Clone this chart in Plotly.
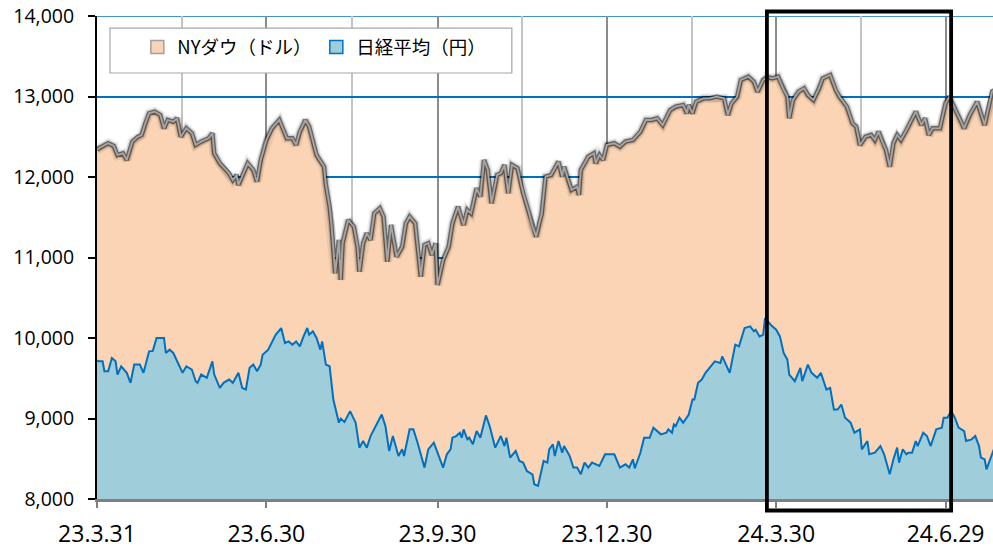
import pandas as pd
import plotly.graph_objects as go

# ---------------- data ----------------
start_date = "2011-03-31"   # 平成23年3月31日

dow_days = [0, 1, 6, 9, 11, 14, 16, 19, 22, 24, 26, 28, 31, 34, 36, 38, 41, 43, 45, 48,
            51, 53, 56, 60, 62, 63, 66, 69, 71, 73, 75, 76, 78, 81, 84, 86, 88, 91, 94, 98,
            102, 105, 107, 109, 112, 114, 118, 122, 123, 125, 126, 128, 130, 131, 132, 135, 138, 140, 141, 143,
            145, 147, 149, 152, 154, 156, 158, 161, 164, 166, 168, 171, 174, 176, 178, 180, 182, 183, 186, 189,
            191, 194, 197, 199, 201, 204, 206, 208, 210, 212, 215, 217, 219, 221, 223, 226, 229, 232, 234, 236,
            239, 241, 244, 248, 250, 251, 255, 258, 259, 260, 264, 267, 268, 270, 272, 274, 278, 281, 284, 288,
            292, 295, 298, 301, 304, 308, 311, 315, 317, 318, 320, 322, 326, 329, 333, 337, 339, 341, 344, 346,
            350, 353, 355, 358, 360, 363, 366, 369, 371, 372, 374, 377, 380, 382, 385, 388, 390, 394, 397, 399,
            403, 406, 408, 410, 413, 416, 418, 420, 422, 424, 426, 428, 430, 432, 435, 438, 440, 443, 445, 447,
            449, 453, 456, 458, 462, 466, 469, 473, 477, 481, 482]
dow_values = [12340, 12357, 12419, 12385, 12273, 12294, 12211, 12439, 12501, 12522, 12667, 12791, 12811, 12770, 12605, 12708, 12687, 12729, 12501, 12605,
              12543, 12398, 12439, 12481, 12543, 12294, 12170, 12087, 12046, 11963, 12025, 11901, 12004, 12170, 12087, 11942, 12211, 12460, 12605, 12708,
              12481, 12481, 12398, 12563, 12708, 12625, 12273, 12128, 11901, 11631, 11404, 10804, 11218, 10721, 11177, 11466, 11383, 11135, 10824, 11177,
              11301, 11218, 11549, 11611, 11507, 10948, 11404, 11010, 11135, 11425, 11507, 11425, 10762, 11156, 11177, 11031, 11177, 10659, 10969, 11135,
              11425, 11631, 11404, 11590, 11549, 11860, 11756, 12211, 12087, 11673, 12025, 12046, 12149, 11798, 12149, 12108, 11798, 11569, 11383, 11259,
              11549, 12004, 12025, 12190, 12004, 12128, 11839, 11880, 11777, 12087, 12252, 12294, 12170, 12273, 12211, 12398, 12419, 12377, 12439, 12460,
              12563, 12708, 12708, 12729, 12646, 12832, 12873, 12894, 12791, 12894, 12791, 12935, 12977, 12977, 12998, 12977, 12770, 12915, 12998, 13205,
              13246, 13184, 13060, 13205, 13240, 13226, 13246, 13081, 12998, 12729, 12957, 13060, 13102, 13019, 12957, 13102, 13226, 13267, 13081, 12998,
              12873, 12667, 12625, 12398, 12501, 12522, 12460, 12563, 12439, 12336, 12128, 12419, 12522, 12460, 12584, 12729, 12811, 12646, 12729, 12522,
              12605, 12605, 12915, 12998, 12791, 12605, 12770, 12935, 12646, 13060, 13080]

nikkei_days = [0, 1, 3, 4, 6, 8, 10, 11, 13, 16, 18, 20, 23, 25, 28, 30, 32, 36, 37, 39,
               41, 44, 46, 48, 51, 53, 54, 56, 59, 62, 63, 66, 68, 71, 73, 76, 78, 80, 82, 84,
               86, 88, 89, 92, 94, 96, 99, 101, 103, 105, 107, 109, 111, 113, 114, 116, 118, 120, 121, 123,
               125, 127, 130, 131, 133, 136, 139, 141, 143, 145, 147, 149, 151, 153, 155, 157, 159, 162, 164, 165,
               168, 170, 172, 174, 176, 178, 181, 183, 186, 188, 190, 191, 193, 195, 196, 197, 199, 200, 202, 204,
               206, 209, 211, 214, 217, 219, 220, 222, 225, 227, 229, 231, 234, 235, 237, 240, 242, 243, 245, 246,
               248, 250, 251, 254, 256, 258, 260, 262, 264, 266, 270, 273, 278, 281, 284, 286, 288, 289, 292, 294,
               297, 299, 301, 303, 306, 307, 309, 310, 311, 313, 315, 318, 320, 321, 323, 325, 327, 329, 332, 335,
               336, 338, 340, 343, 345, 348, 351, 353, 354, 356, 358, 359, 362, 365, 367, 369, 371, 372, 375, 378,
               379, 382, 384, 387, 389, 392, 394, 396, 398, 400, 402, 405, 407, 410, 411, 414, 415, 418, 421, 423,
               426, 428, 430, 431, 433, 435, 436, 438, 440, 441, 444, 446, 448, 451, 454, 455, 457, 459, 461, 463,
               466, 467, 470, 472, 474, 475, 477, 478, 481, 482]
nikkei_values = [9720, 9710, 9710, 9587, 9587, 9752, 9710, 9546, 9649, 9567, 9443, 9670, 9670, 9567, 9834, 9840, 10000, 10000, 9814, 9855,
                 9814, 9670, 9567, 9649, 9608, 9463, 9443, 9546, 9505, 9710, 9546, 9381, 9443, 9484, 9443, 9567, 9381, 9360, 9629, 9670,
                 9587, 9670, 9793, 9855, 9958, 10040, 10124, 9938, 9958, 9917, 9958, 9896, 10020, 10124, 10041, 10083, 10000, 9855, 9958, 9670,
                 9649, 9236, 8948, 8999, 8957, 9092, 8948, 8638, 8720, 8638, 8782, 8865, 8957, 9050, 8906, 8596, 8782, 8534, 8617, 8534,
                 8865, 8865, 8720, 8555, 8390, 8617, 8700, 8575, 8390, 8555, 8617, 8762, 8782, 8823, 8762, 8865, 8741, 8762, 8679, 8844,
                 8762, 9038, 8906, 8638, 8782, 8658, 8762, 8514, 8596, 8472, 8452, 8348, 8307, 8184, 8163, 8472, 8452, 8617, 8679, 8534,
                 8720, 8575, 8658, 8534, 8390, 8390, 8307, 8452, 8390, 8452, 8410, 8555, 8555, 8390, 8431, 8390, 8493, 8380, 8575, 8762,
                 8762, 8886, 8844, 8803, 8823, 8865, 8823, 8927, 8906, 9010, 8948, 9050, 9236, 9236, 9443, 9484, 9567, 9629, 9710, 9690,
                 9772, 9670, 9567, 9917, 9896, 10124, 10145, 10083, 10103, 10020, 10041, 10248, 10165, 10103, 10020, 9814, 9731, 9546, 9463, 9629,
                 9463, 9670, 9567, 9505, 9567, 9360, 9381, 9112, 9112, 9174, 9010, 8948, 8824, 8865, 8617, 8720, 8555, 8575, 8658, 8555,
                 8307, 8493, 8638, 8452, 8617, 8555, 8575, 8575, 8720, 8658, 8824, 8782, 8658, 8865, 8886, 9010, 9010, 9092, 9010, 8886,
                 8844, 8720, 8741, 8782, 8658, 8514, 8493, 8369, 8575, 8620]

series_names = ["NYダウ（ドル）", "日経平均（円）"]
tick_dates = ["2011-03-31", "2011-06-30", "2011-09-30", "2011-12-30", "2012-03-30", "2012-06-29"]
tick_labels = ["23.3.31", "23.6.30", "23.9.30", "23.12.30", "24.3.30", "24.6.29"]
highlight_period = ["2012-03-25", "2012-07-02"]
x_end_days = 481.5
y_range = [8000, 14000]

# ---------------- figure ----------------
t0 = pd.Timestamp(start_date)
dow_x = t0 + pd.to_timedelta(dow_days, unit="D")
nk_x = t0 + pd.to_timedelta(nikkei_days, unit="D")
tick_ts = pd.to_datetime(tick_dates)
minor_ts = [tick_ts[i] + (tick_ts[i + 1] - tick_ts[i]) / 2 for i in range(len(tick_ts) - 1)]
x_end = t0 + pd.to_timedelta(x_end_days, unit="D")

DOW_FILL = "#FAD4B4"
NK_FILL = "#9FCDD9"
NK_LINE = "#0070C0"

fig = go.Figure()
# Dow area fill
fig.add_trace(go.Scatter(x=dow_x, y=dow_values, mode="lines", fill="tozeroy",
                         fillcolor=DOW_FILL, line=dict(width=0, color=DOW_FILL),
                         showlegend=False, hoverinfo="skip"))
# shadow/glow of Dow line
for w, c in [(10, "rgba(0,0,0,0.06)"), (7, "rgba(0,0,0,0.15)"), (4.5, "rgba(0,0,0,0.5)")]:
    fig.add_trace(go.Scatter(x=dow_x, y=dow_values, mode="lines",
                             line=dict(width=w, color=c), showlegend=False, hoverinfo="skip"))
fig.add_trace(go.Scatter(x=dow_x, y=dow_values, mode="lines", name=series_names[0],
                         line=dict(width=1.8, color="#A6A6A6"), showlegend=False))
# Nikkei area
fig.add_trace(go.Scatter(x=nk_x, y=nikkei_values, mode="lines", fill="tozeroy",
                         fillcolor=NK_FILL, line=dict(width=2, color=NK_LINE),
                         name=series_names[1], showlegend=False))

# legend entries (square swatches)
fig.add_trace(go.Scatter(x=[None], y=[None], mode="markers", name=series_names[0],
                         marker=dict(symbol="square", size=13, color=DOW_FILL,
                                     line=dict(color="#A0A0A0", width=1.5))))
fig.add_trace(go.Scatter(x=[None], y=[None], mode="markers", name=series_names[1],
                         marker=dict(symbol="square", size=13, color=NK_FILL,
                                     line=dict(color=NK_LINE, width=1.5))))

fig.update_layout(
    width=993, height=552,
    margin=dict(l=97, r=0, t=16, b=53, autoexpand=False),
    paper_bgcolor="white", plot_bgcolor="white",
    font=dict(family="Open Sans, Liberation Sans, sans-serif", color="black"),
    showlegend=True,
    legend=dict(orientation="h", x=0.045, y=0.974, xanchor="left", yanchor="top",
                bgcolor="rgba(0,0,0,0)", borderwidth=0,
                font=dict(family="Noto Sans CJK JP", size=18.5, color="black"),
                entrywidth=134, itemwidth=30),
    xaxis=dict(type="date", range=[t0, x_end], automargin=False,
               tickmode="array", tickvals=tick_ts, ticktext=tick_labels,
               ticks="outside", ticklen=6, tickwidth=2, tickcolor="#808080",
               showline=True, linecolor="#808080", linewidth=3,
               showgrid=True, gridcolor="#8C8C8C", gridwidth=1.5,
               minor=dict(tickmode="array", tickvals=minor_ts, showgrid=True,
                          gridcolor="#C4C4C4", gridwidth=1.5, ticks=""),
               tickfont=dict(size=23, color="black"), ticklabelstandoff=6, zeroline=False),
    yaxis=dict(range=y_range, tickmode="linear", tick0=8000, dtick=1000, tickformat=",",
               automargin=False,
               ticks="outside", ticklen=7, tickwidth=1.5, tickcolor="black",
               showline=True, linecolor="black", linewidth=2,
               showgrid=True, gridcolor="#0070C0", gridwidth=1.6,
               ticklabeloverflow="allow",
               tickfont=dict(size=19.5, color="black"), ticklabelstandoff=10, zeroline=False),
    shapes=[
        # top gridline at the range maximum
        dict(type="line", xref="paper", yref="y", x0=0, x1=1, y0=y_range[1], y1=y_range[1],
             line=dict(color="#0070C0", width=1.6), layer="below"),
        # legend box
        dict(type="rect", xref="paper", yref="paper", x0=0.0145, x1=0.463, y0=0.882, y1=0.975,
             fillcolor="white", line=dict(color="#A6A6A6", width=1.2), layer="above"),
        # highlight frame
        dict(type="rect", xref="x", yref="paper", x0=highlight_period[0], x1=highlight_period[1],
             y0=-0.0238, y1=1.0093, line=dict(color="black", width=3.8), fillcolor="rgba(0,0,0,0)",
             layer="above"),
    ],
)

# place the figure at the page's top-left corner (no default body margin)
fig.write_html("out.html", config={"displayModeBar": False},
               post_script="document.body.style.margin='0';")
